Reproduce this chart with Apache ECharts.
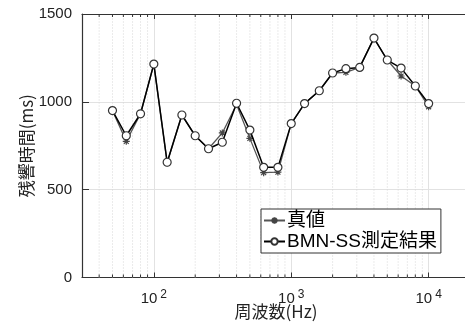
<!DOCTYPE html>
<html>
<head>
<meta charset="utf-8">
<script src="https://cdn.jsdelivr.net/npm/echarts@6/dist/echarts.min.js"></script>
<style>html,body{margin:0;padding:0;background:#fff;}#c{width:465px;height:322px;}</style>
</head>
<body>
<div id="c"></div>
<script>
// Data
const freqs = [50,63,80,100,125,160,200,250,315,400,500,630,800,1000,1250,1600,2000,2500,3150,4000,5000,6300,8000,10000];
const trueValues = [950,775,932,1215,652,925,807,733,823,985,792,597,600,876,990,1063,1164,1168,1196,1363,1238,1147,1090,972];
const measuredValues = [950,807,932,1215,656,925,807,733,770,992,839,627,627,876,990,1063,1164,1189,1196,1363,1238,1192,1090,990];
const seriesNames = ['真値', 'BMN-SS測定結果'];
const yTicks = [0, 500, 1000, 1500];
const xMin = 30, xMax = 20000;

const latin = "'Liberation Sans', 'Noto Sans CJK JP', sans-serif";
const cjk = "'Noto Sans CJK JP', 'Liberation Sans', sans-serif";

// minor log ticks (2..9 x decade) inside the axis range
const minorVals = [];
for (let d = 10; d <= 10000; d *= 10) {
  for (let k = 2; k <= 9; k++) {
    const v = k * d;
    if (v > xMin && v < xMax) minorVals.push([v, 0]);
  }
}

const chart = echarts.init(document.getElementById('c'), null, {renderer: 'canvas'});
const axisColor = '#333';
const starPath = 'path://M5,0L5,10M0,5L10,5M1.5,1.5L8.5,8.5M8.5,1.5L1.5,8.5';

function xLabel(v) {
  const e = Math.round(Math.log10(v));
  if (Math.abs(Math.pow(10, e) - v) > 1e-6 * v) return '';
  return '{b|10}{s|' + e + '}';
}

chart.setOption({
  animation: false,
  backgroundColor: '#fff',
  grid: {left: 82, top: 14, width: 388, height: 263.5, outerBoundsMode: 'none', containLabel: false},
  legend: {
    orient: 'vertical',
    left: 261, top: 209,
    backgroundColor: '#fff',
    borderColor: '#333', borderWidth: 1,
    padding: [2, 4, 2, 2],
    itemGap: 2,
    itemWidth: 21, itemHeight: 8,
    textStyle: {fontSize: 19, fontFamily: latin, color: '#000', padding: [0,0,0,-3]},
    data: seriesNames
  },
  xAxis: [{
    type: 'log', logBase: 10, min: xMin, max: xMax,
    name: '周波数(Hz)', nameLocation: 'middle', nameGap: 26, nameMoveOverlap: false,
    nameTextStyle: {fontSize: 17, fontFamily: cjk, color: '#222'},
    axisLine: {show: true, onZero: false, lineStyle: {color: axisColor, width: 1.2}},
    axisTick: {show: true, inside: true, length: 5, lineStyle: {color: axisColor}},
    axisLabel: {formatter: xLabel, margin: 11, color: '#222',
      rich: {b: {fontSize: 15, fontFamily: latin, color: '#222'},
             s: {fontSize: 12, fontFamily: latin, color: '#222', padding: [0, 0, 9, 3]}}},
    splitLine: {show: true, lineStyle: {color: '#e2e2e2', width: 1}}
  }, {
    type: 'log', logBase: 10, min: xMin, max: xMax, position: 'top',
    axisLine: {show: true, onZero: false, lineStyle: {color: axisColor, width: 1.2}},
    axisTick: {show: true, inside: true, length: 5, lineStyle: {color: axisColor}},
    axisLabel: {show: false},
    splitLine: {show: false}
  }],
  yAxis: {
    type: 'value', min: yTicks[0], max: yTicks[yTicks.length - 1], interval: 500,
    name: '残響時間(ms)', nameLocation: 'middle', nameGap: 47, nameRotate: 90, nameMoveOverlap: false,
    nameTextStyle: {fontSize: 17, fontFamily: cjk, color: '#222'},
    axisLine: {show: true, lineStyle: {color: axisColor, width: 1.2}},
    axisTick: {show: true, inside: true, length: 7, lineStyle: {color: axisColor}},
    axisLabel: {fontSize: 15, fontFamily: latin, color: '#222', margin: 10,
      formatter: v => String(v)},
    splitLine: {show: true, lineStyle: {color: '#e2e2e2', width: 1}}
  },
  series: [{
    type: 'custom',
    silent: true,
    z: 1,
    data: minorVals,
    renderItem: function (params, api) {
      const v = api.value(0);
      const pb = api.coord([v, yTicks[0]]);
      const pt = api.coord([v, yTicks[yTicks.length - 1]]);
      return {
        type: 'group',
        children: [
          {type: 'line', shape: {x1: pb[0], y1: pb[1], x2: pt[0], y2: pt[1]},
           style: {stroke: '#d6d6d6', lineWidth: 1, lineDash: [1, 2]}},
          {type: 'line', shape: {x1: pb[0], y1: pb[1], x2: pb[0], y2: pb[1] - 3},
           style: {stroke: axisColor, lineWidth: 1}},
          {type: 'line', shape: {x1: pt[0], y1: pt[1], x2: pt[0], y2: pt[1] + 3},
           style: {stroke: axisColor, lineWidth: 1}}
        ]
      };
    }
  }, {
    name: seriesNames[0],
    type: 'line',
    z: 3,
    data: freqs.map((f, i) => [f, trueValues[i]]),
    symbol: starPath,
    symbolSize: 7,
    lineStyle: {color: '#555', width: 1.3},
    itemStyle: {color: 'none', borderColor: '#444', borderWidth: 1.2}
  }, {
    name: seriesNames[1],
    type: 'line',
    z: 4,
    data: freqs.map((f, i) => [f, measuredValues[i]]),
    symbol: 'circle',
    symbolSize: 8,
    showAllSymbol: true,
    lineStyle: {color: '#000', width: 1.5},
    itemStyle: {color: '#fff', borderColor: '#333', borderWidth: 1.2}
  }]
});
</script>
</body>
</html>
